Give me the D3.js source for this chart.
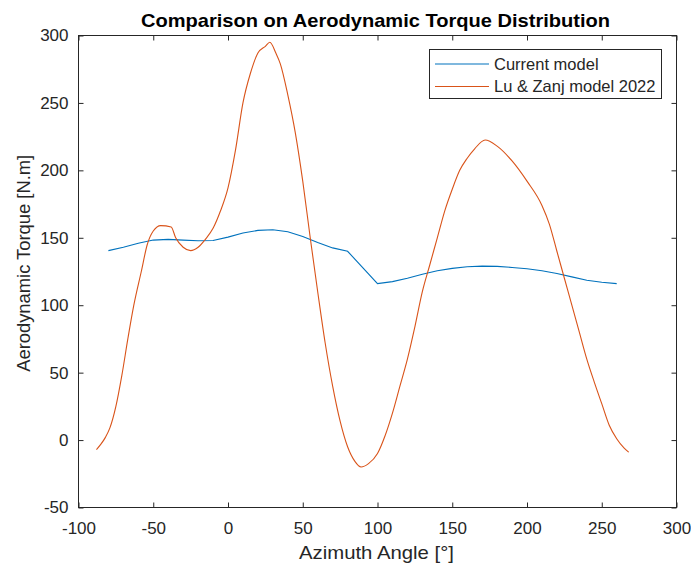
<!DOCTYPE html>
<html>
<head>
<meta charset="utf-8">
<script src="https://cdn.jsdelivr.net/npm/d3@7"></script>
<style>
  body { margin: 0; background: #fff; }
  text { font-family: "Liberation Sans", Arial, sans-serif; fill: #262626; }
</style>
</head>
<body>
<div id="chart"></div>
<script>
const xTicks = [-100, -50, 0, 50, 100, 150, 200, 250, 300]
const yTicks = [-50, 0, 50, 100, 150, 200, 250, 300]

// Current model
const currentAngle = [-80, -70, -60, -50, -40, -30, -20, -10, 0, 10, 20, 30, 40, 50, 60, 70, 80, 100,
  110, 120, 130, 140, 150, 160, 170, 180, 190, 200, 210, 220, 230, 240, 250, 260]
const currentTorque = [140.5, 143, 146, 148.3, 148.8, 148.3, 147.8, 148, 150.5, 153.5, 155.5, 156, 154.5, 151, 146.5, 142.5, 140, 116,
  117.5, 120, 123, 125.5, 127.3, 128.5, 129, 128.8, 128, 127, 125.5, 123.5, 121, 118.5, 117, 116]

// Lu & Zanj model 2022
const luAngle = [-88, -85, -82, -79, -75, -71, -67, -63, -58, -54, -50, -45, -38, -35, -30, -25, -20, -15, -10, -5,
  0, 5, 10, 15, 20, 25, 28, 32, 35, 40, 45, 50, 55, 60, 65, 70, 75, 80, 85, 89, 94, 100,
  105, 110, 115, 120, 125, 130, 135, 140, 145, 150, 155, 160, 165, 172, 180, 190, 200, 210,
  215, 220, 225, 230, 235, 240, 245, 250, 255, 260, 265, 268]
const luTorque = [-7, -3, 2, 9, 25, 48, 75, 100, 125, 145, 155, 159, 158, 150, 143, 140.5, 143, 149, 157, 170,
  187, 215, 250, 272, 287, 292, 295, 287, 279, 256, 228, 192, 150, 110, 72, 40, 14, -5, -16, -20, -17.5, -10,
  3, 20, 40, 60, 84, 110, 130, 150, 170, 186, 200, 209, 216, 222.5, 218, 207, 192, 174,
  160, 140, 120, 100, 80, 60, 43, 27, 11, 1, -6, -9]

const seriesNames = ["Current model", "Lu & Zanj model 2022"]
const colors = ["#0072BD", "#D95319"]

const W = 691, H = 567
const m = { left: 78.5, right: 676.5, top: 35.5, bottom: 507.5 }

const svg = d3.select("#chart").append("svg").attr("width", W).attr("height", H)

const x = d3.scaleLinear().domain([-100, 300]).range([m.left, m.right])
const y = d3.scaleLinear().domain([-50, 300]).range([m.bottom, m.top])

const axColor = "#262626"
const fmt = d => String(d)

// ticks (inside, all four sides)
const gx = svg.append("g").attr("transform", `translate(0,${m.bottom})`)
  .call(d3.axisBottom(x).tickValues(xTicks).tickSizeInner(-5).tickSizeOuter(0).tickPadding(14).tickFormat(fmt))
const gxt = svg.append("g").attr("transform", `translate(0,${m.top})`)
  .call(d3.axisTop(x).tickValues(xTicks).tickSizeInner(-5).tickSizeOuter(0).tickFormat(""))
const gy = svg.append("g").attr("transform", `translate(${m.left},0)`)
  .call(d3.axisLeft(y).tickValues(yTicks).tickSizeInner(-5).tickSizeOuter(0).tickPadding(10).tickFormat(fmt))
const gyr = svg.append("g").attr("transform", `translate(${m.right},0)`)
  .call(d3.axisRight(y).tickValues(yTicks).tickSizeInner(-5).tickSizeOuter(0).tickFormat(""))

;[gx, gxt, gy, gyr].forEach(g => {
  g.select(".domain").remove()
  g.selectAll("line").attr("stroke", axColor)
  g.selectAll("text").style("font-size", "17px").attr("fill", axColor)
    .style("font-family", "'Liberation Sans', Arial, sans-serif")
})

svg.append("rect")
  .attr("x", m.left).attr("y", m.top)
  .attr("width", m.right - m.left).attr("height", m.bottom - m.top)
  .attr("fill", "none").attr("stroke", axColor).attr("stroke-width", 1)

// lines
const lineCur = d3.line()
  .x((d, i) => x(currentAngle[i]))
  .y(d => y(d))
const lineLu = d3.line()
  .x((d, i) => x(luAngle[i]))
  .y(d => y(d))
  .curve(d3.curveMonotoneX)

svg.append("path").datum(currentTorque)
  .attr("fill", "none").attr("stroke", colors[0]).attr("stroke-width", 1.1)
  .attr("d", lineCur)
svg.append("path").datum(luTorque)
  .attr("fill", "none").attr("stroke", colors[1]).attr("stroke-width", 1.1)
  .attr("d", lineLu)

// title and labels
svg.append("text")
  .attr("x", 375.5).attr("y", 26.5)
  .attr("text-anchor", "middle")
  .style("font-size", "18.5px").style("font-weight", "bold")
  .style("fill", "#000")
  .attr("textLength", 469).attr("lengthAdjust", "spacingAndGlyphs")
  .text("Comparison on Aerodynamic Torque Distribution")

svg.append("text")
  .attr("x", 376.5).attr("y", 558.5)
  .attr("text-anchor", "middle")
  .style("font-size", "19px")
  .attr("textLength", 155).attr("lengthAdjust", "spacingAndGlyphs")
  .text("Azimuth Angle [°]")

svg.append("text")
  .attr("transform", `translate(30,263.3) rotate(-90)`)
  .attr("text-anchor", "middle")
  .style("font-size", "18.5px")
  .attr("textLength", 217).attr("lengthAdjust", "spacingAndGlyphs")
  .text("Aerodynamic Torque [N.m]")

// legend
const legend = svg.append("g")
legend.append("rect")
  .attr("x", 429.5).attr("y", 49.5).attr("width", 232).attr("height", 49)
  .attr("fill", "#fff").attr("stroke", axColor).attr("stroke-width", 1)

seriesNames.forEach((name, i) => {
  const ly = 64 + i * 22.5
  legend.append("line")
    .attr("x1", 435).attr("x2", 489).attr("y1", ly).attr("y2", ly)
    .attr("stroke", colors[i]).attr("stroke-width", 1.1)
  legend.append("text")
    .attr("x", 494).attr("y", ly).attr("dy", "0.35em")
    .style("font-size", "16.5px")
    .text(name)
})
</script>
</body>
</html>
